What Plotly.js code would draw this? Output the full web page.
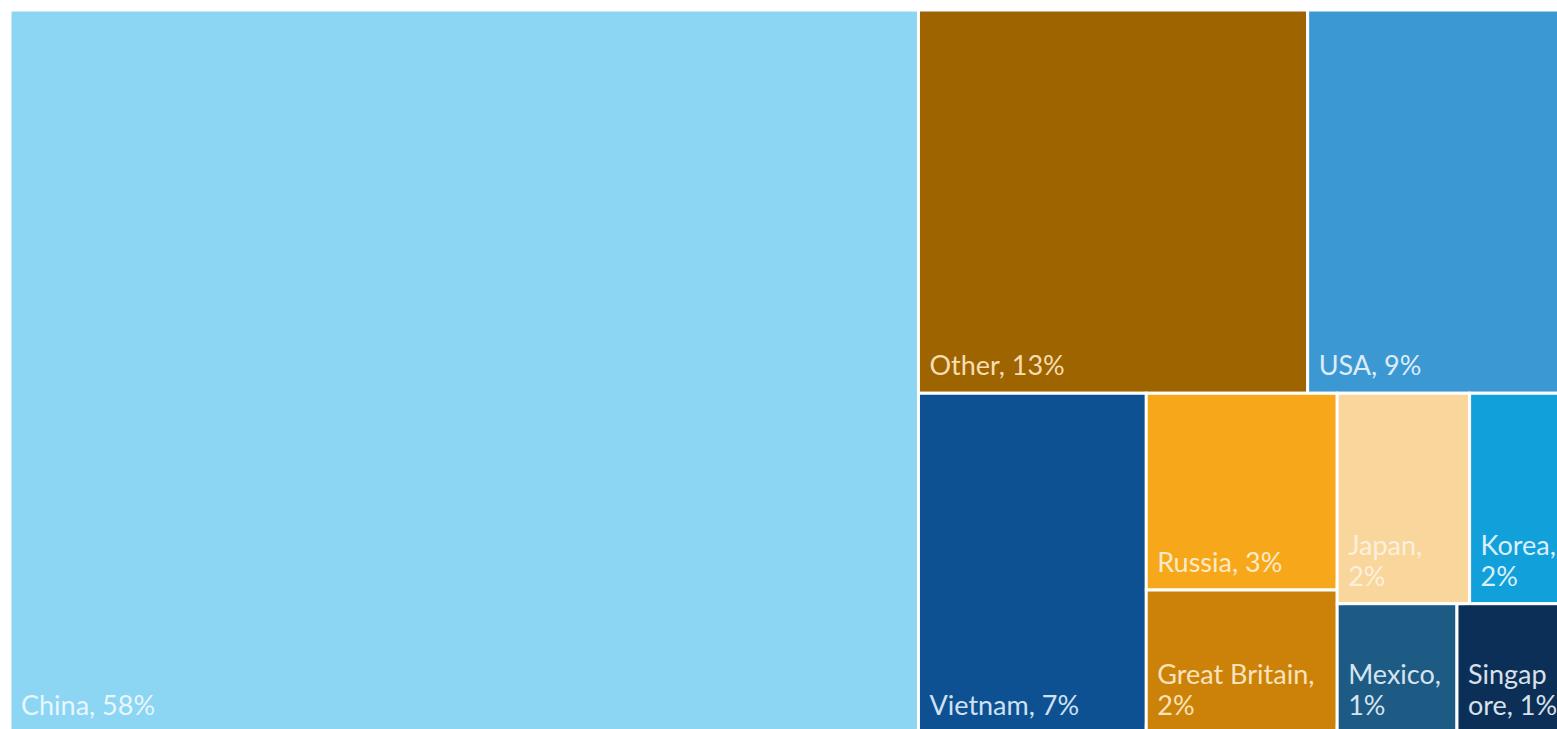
<!DOCTYPE html>
<html>
<head>
<meta charset="utf-8">
<script src="https://cdn.plot.ly/plotly-3.0.1.min.js"></script>
<style>
  html, body { margin: 0; padding: 0; overflow: hidden; background: #ffffff; }
  #wrap { width: 1557px; height: 729px; overflow: hidden; position: relative; }
  #chart { width: 1582px; height: 742px; position: absolute; left: 0; top: 0; }
</style>
</head>
<body>
<div id="wrap"><div id="chart"></div></div>
<script>
// Share of total (%), estimated from tile areas; printed labels are rounded
const countries = ["China", "Other", "USA", "Vietnam", "Russia", "Great Britain", "Japan", "Korea", "Mexico", "Singapore"];
const shares    = [57.7, 13.1, 9.0, 6.8, 3.3, 2.4, 2.45, 1.95, 1.36, 1.34];
// Labels as printed on the tiles (with the reference's line wrapping)
const tileText  = ["China, 58%", "Other, 13%", "USA, 9%", "Vietnam, 7%", "Russia, 3%",
                   "Great Britain,<br>2%", "Japan,<br>2%", "Korea,<br>2%", "Mexico,<br>1%", "Singap<br>ore, 1%"];
const tileColors = ["#8cd5f3", "#9e6400", "#3c98d3", "#0e5192", "#f6a81a",
                    "#cc8208", "#f9d69c", "#12a0da", "#1d5a84", "#0c2f58"];
const textColors = ["#e8f7fd", "#f6deb2", "#dcedf9", "#cfe1f3", "#fdeac8",
                    "#f8e3bb", "#fdf0dd", "#d9f0fb", "#d6e4ef", "#d8e0ea"];

// Glyph size larger than the base size so wrapped lines sit closer together
const styled = tileText.map(t => t.split("<br>")
  .map(line => '<span style="font-size:27px">' + line + '</span>').join("<br>"));

// Each country tile holds one inner label cell of the same colour,
// so that the label sits inset from the tile corner as in the reference.
const innerIds = countries.map(c => c + " label");
const ids      = countries.concat(innerIds);
const labels   = countries.map(() => " ").concat(countries);
const parents  = countries.map(() => "").concat(countries);
const values   = shares.concat(shares);
const texts    = countries.map(() => "").concat(styled);
const colors   = tileColors.concat(tileColors);
const lineW    = countries.map(() => 3).concat(countries.map(() => 0));
const fontCols = countries.map(() => "rgba(0,0,0,0)").concat(textColors);

const trace = {
  type: "treemap",
  ids: ids,
  labels: labels,
  parents: parents,
  values: values,
  branchvalues: "total",
  text: texts,
  texttemplate: "%{text}",
  textinfo: "text",
  textposition: "bottom left",
  sort: false,
  tiling: { packing: "squarify", squarifyratio: 1, pad: 0 },
  marker: {
    colors: colors,
    depthfade: false,
    line: { color: "#ffffff", width: lineW },
    pad: { t: 2, l: 8, r: 2, b: 9 }
  },
  textfont: { family: "Lato, 'Open Sans', sans-serif", size: 24, color: fontCols },
  pathbar: { visible: false },
  hoverinfo: "none"
};

const layout = {
  width: 1582,
  height: 742,
  margin: { l: 2, r: 5, t: 8, b: 0 },
  paper_bgcolor: "#ffffff",
  showlegend: false,
  uniformtext: { minsize: 24, mode: "show" }
};

Plotly.newPlot("chart", [trace], layout, { displayModeBar: false, staticPlot: true });
</script>
</body>
</html>
